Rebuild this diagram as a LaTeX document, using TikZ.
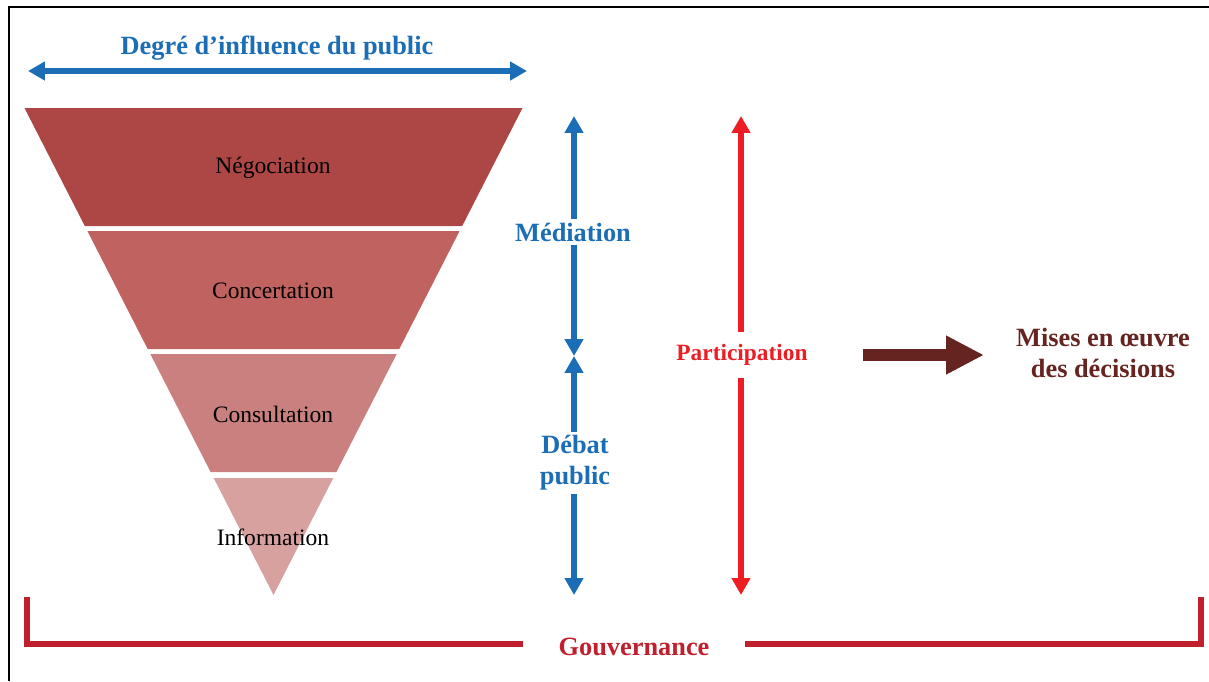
\documentclass[tikz,border=0pt]{standalone}
\usepackage{fontspec}
\setmainfont{Liberation Serif}
\usetikzlibrary{arrows.meta}

\definecolor{infblue}{RGB}{27,109,181}
\definecolor{partred}{RGB}{238,29,36}
\definecolor{govred}{RGB}{192,32,46}
\definecolor{deepbrown}{RGB}{101,36,32}
\definecolor{bandA}{RGB}{173,71,70}
\definecolor{bandB}{RGB}{192,98,96}
\definecolor{bandC}{RGB}{201,128,126}
\definecolor{bandD}{RGB}{215,161,160}

\begin{document}
\begin{tikzpicture}[
    x=0.02cm, y=-0.02cm,
    level/.style={
      font=\fontsize{13.4}{16}\selectfont,
      text=black
    },
    axis/.style={
      font=\bfseries\fontsize{15}{17.6}\selectfont,
      align=center,
      fill=white,
      inner sep=2pt
    },
    bluearrow/.style={
      draw=infblue,
      line width=3.4pt,
      {Triangle[length=9.6pt,width=10.2pt]}-{Triangle[length=9.6pt,width=10.2pt]}
    },
    redarrow/.style={
      draw=partred,
      line width=3.4pt,
      {Triangle[length=9.6pt,width=10.2pt]}-{Triangle[length=9.6pt,width=10.2pt]}
    },
    bracket/.style={draw=govred, line width=3.4pt}
  ]
    \useasboundingbox (0,0) rectangle (1209,681);
    \draw[line width=1.2pt] (9,681) -- (9,7) -- (1209,7);

    % funnel
    \fill[bandA] (24.5,108) -- (522.5,108) -- (462.2,226) -- (84.8,226) -- cycle;
    \fill[bandB] (87.4,231) -- (459.6,231) -- (399.3,349) -- (147.7,349) -- cycle;
    \fill[bandC] (150.3,354) -- (396.7,354) -- (336.4,472) -- (210.6,472) -- cycle;
    \fill[bandD] (213.7,478) -- (333.3,478) -- (273.5,595) -- cycle;

    \node[level] (nego) at (273,168) {Négociation};
    \node[level] (conc) at (273,291) {Concertation};
    \node[level] (cons) at (273,414) {Consultation};
    \node[level] (info) at (273,537) {Information};

    % degree of influence
    \node[axis, text=infblue] (degre) at (277,48) {Degré d’influence du public};
    \coordinate (degL) at (28,71);
    \coordinate (degR) at (527,71);
    \draw[bluearrow] (degL) -- (degR);

    % mediation / debat
    \coordinate (medtop) at (574,116);
    \coordinate (medbot) at (574,356);
    \coordinate (debtop) at (574,356);
    \coordinate (debbot) at (574,595);
    \draw[bluearrow] (medtop) -- (medbot);
    \draw[bluearrow] (debtop) -- (debbot);
    \node[axis, text=infblue] (media) at (573,232) {Médiation};
    \node[axis, text=infblue] (debat) at (575,463) {Débat\\public};

    % participation
    \coordinate (parttop) at (741,116);
    \coordinate (partbot) at (741,595);
    \draw[redarrow] (parttop) -- (partbot);
    \node[axis, text=partred, inner ysep=7pt, font=\bfseries\fontsize{13.3}{16}\selectfont] (part) at (742,355) {Participation};

    % decisions
    \node[axis, text=deepbrown] (mises) at (1103,353) {Mises en œuvre\\des décisions};
    \coordinate (flowA) at (863,355);
    \coordinate (flowB) at (984,355);
    \draw[deepbrown, line width=6.8pt, -{Triangle[length=21.5pt,width=20.5pt]}] (flowA) -- (flowB);

    % gouvernance
    \node[axis, text=govred] (gouv) at (634,647) {Gouvernance};
    \coordinate (govLt) at (27,597);
    \coordinate (govLb) at (27,644);
    \coordinate (govLe) at (523,644);
    \coordinate (govRs) at (745,644);
    \coordinate (govRb) at (1201,644);
    \coordinate (govRt) at (1201,597);
    \draw[bracket] (govLt) -- (govLb) -- (govLe);
    \draw[bracket] (govRs) -- (govRb) -- (govRt);
\end{tikzpicture}
\end{document}
